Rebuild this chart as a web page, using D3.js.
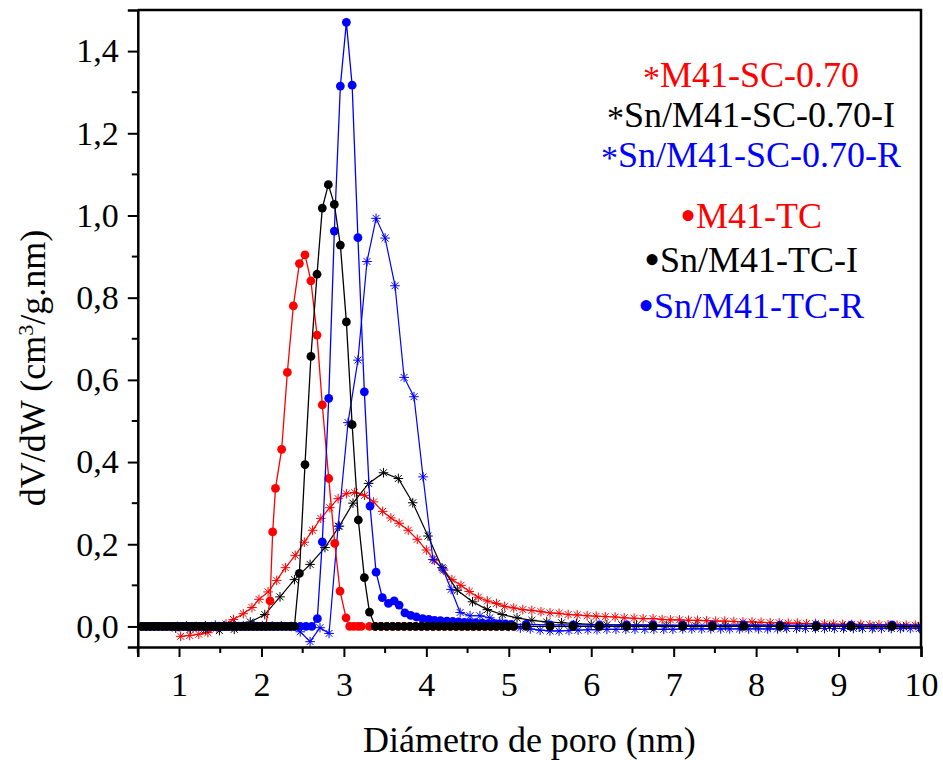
<!DOCTYPE html>
<html>
<head>
<meta charset="utf-8">
<script src="https://cdn.jsdelivr.net/npm/d3@7"></script>
<style>
  body { margin: 0; background: #fff; }
  svg text { font-family: "Liberation Serif", "Times New Roman", serif; }
</style>
</head>
<body>
<div id="chart"></div>
<script>
// pore size distributions, [diameter nm, dV/dW]

// asterisk series
const scRed = [[1.02,-0.024],[1.13,-0.022],[1.24,-0.019],[1.35,-0.015],[1.46,-0.004],[1.57,0.006],[1.66,0.017],[1.78,0.031],[1.885,0.046],[1.97,0.066],[2.08,0.084],[2.185,0.112],[2.29,0.143],[2.41,0.173],[2.52,0.205],[2.62,0.234],[2.72,0.263],[2.83,0.289],[2.93,0.311],[3.03,0.323],[3.13,0.326],[3.25,0.319],[3.36,0.303],[3.47,0.280],[3.57,0.264],[3.67,0.251],[3.78,0.234],[3.89,0.212],[4.00,0.186],[4.10,0.161],[4.21,0.137],[4.31,0.114],[4.42,0.100],[4.52,0.085],[4.63,0.071],[4.74,0.062],[4.85,0.056],[4.95,0.049],[5.06,0.045],[5.17,0.041],[5.28,0.039],[5.39,0.036],[5.50,0.033],[5.61,0.032],[5.72,0.029],[5.83,0.028],[5.95,0.026],[6.06,0.025],[6.17,0.024],[6.29,0.023],[6.40,0.021],[6.52,0.020],[6.63,0.019],[6.75,0.019],[6.86,0.017],[6.96,0.016],[7.07,0.016],[7.18,0.015],[7.29,0.015],[7.40,0.014],[7.51,0.013],[7.62,0.013],[7.73,0.012],[7.84,0.011],[7.95,0.011],[8.06,0.010],[8.17,0.009],[8.28,0.009],[8.39,0.008],[8.50,0.008],[8.61,0.007],[8.72,0.007],[8.83,0.006],[8.94,0.006],[9.05,0.005],[9.16,0.005],[9.27,0.005],[9.38,0.004],[9.49,0.004],[9.60,0.004],[9.71,0.003],[9.82,0.003],[9.93,0.003],[10.04,0.003]];

const scBlack = [[0.96,-0.004],[1.14,-0.006],[1.32,-0.008],[1.49,-0.010],[1.67,-0.007],[1.865,0.011],[2.04,0.029],[2.225,0.072],[2.40,0.114],[2.59,0.151],[2.77,0.192],[2.945,0.244],[3.11,0.300],[3.30,0.348],[3.48,0.374],[3.66,0.360],[3.835,0.301],[4.02,0.220],[4.19,0.143],[4.375,0.088],[4.56,0.060],[4.74,0.041],[4.92,0.029],[5.10,0.021],[5.28,0.015],[5.46,0.011],[5.64,0.009],[5.82,0.007],[6.00,0.005],[6.19,0.004],[6.37,0.004],[6.55,0.003],[6.73,0.003],[6.91,0.002],[7.09,0.002],[7.27,0.002],[7.45,0.001],[7.63,0.001],[7.81,0.001],[7.99,0.001],[8.17,0.000],[8.35,0.000],[8.53,0.000],[8.71,0.000],[8.89,0.000],[9.07,0.000],[9.25,-0.001],[9.43,-0.001],[9.61,-0.001],[9.79,-0.001],[9.97,-0.001]];

const scBlue = [[0.98,0.000],[1.09,0.001],[1.21,0.000],[1.32,0.002],[1.44,0.003],[1.55,0.002],[1.67,0.003],[1.78,0.002],[1.90,0.003],[2.01,0.002],[2.13,0.001],[2.24,0.002],[2.36,0.000],[2.47,-0.013],[2.59,-0.037],[2.71,-0.003],[2.82,-0.017],[2.93,0.244],[3.05,0.496],[3.17,0.648],[3.28,0.888],[3.39,0.993],[3.50,0.945],[3.62,0.829],[3.73,0.606],[3.85,0.559],[3.96,0.364],[4.08,0.163],[4.20,0.140],[4.30,0.090],[4.41,0.034],[4.53,0.026],[4.65,0.026],[4.77,0.021],[4.89,0.010],[5.00,0.000],[5.14,-0.004],[5.26,-0.006],[5.38,-0.009],[5.50,-0.011],[5.61,-0.011],[5.73,-0.010],[5.84,-0.009],[5.96,-0.008],[6.07,-0.008],[6.19,-0.007],[6.30,-0.007],[6.42,-0.007],[6.53,-0.007],[6.65,-0.007],[6.76,-0.007],[6.88,-0.007],[6.99,-0.007],[7.11,-0.006],[7.22,-0.006],[7.34,-0.006],[7.45,-0.006],[7.57,-0.006],[7.68,-0.006],[7.80,-0.006],[7.91,-0.006],[8.03,-0.006],[8.14,-0.006],[8.26,-0.006],[8.37,-0.005],[8.49,-0.005],[8.60,-0.005],[8.72,-0.005],[8.83,-0.005],[8.95,-0.005],[9.06,-0.005],[9.18,-0.005],[9.29,-0.005],[9.41,-0.005],[9.52,-0.005],[9.64,-0.005],[9.75,-0.005],[9.87,-0.005],[9.98,-0.005]];

// dot series
const tcRed = [[0.55,0],[0.60,0],[0.65,0],[0.70,0],[0.75,0],[0.80,0],[0.85,0],[0.90,0],[0.95,0],[1.00,0],[1.05,0],[1.10,0],[1.15,0],[1.20,0],[1.25,0],[1.30,0],[1.35,0],[1.40,0],[1.45,0],[1.50,0],[1.55,0],[1.60,0],[1.65,0],[1.70,0],[1.75,0],[1.80,0],[1.85,0],[1.90,0],[1.95,0],[2.00,0],[2.05,0],[2.104,0.062],[2.136,0.230],[2.17,0.336],[2.245,0.431],[2.314,0.618],[2.387,0.780],[2.46,0.883],[2.528,0.904],[2.60,0.841],[2.674,0.709],[2.738,0.539],[2.816,0.360],[2.889,0.202],[2.953,0.086],[3.026,0.021],[3.07,0],[3.12,0],[3.17,0],[3.21,0],[3.31,0],[3.38,0],[3.45,0],[3.52,0],[3.59,0],[3.66,0],[3.73,0],[3.80,0],[3.87,0],[3.94,0],[4.01,0],[4.08,0],[4.15,0],[4.22,0],[4.29,0],[4.36,0],[4.43,0],[4.50,0],[4.57,0],[4.64,0],[4.71,0],[4.78,0],[4.85,0],[4.92,0],[4.99,0],[5.06,0]];

const tcBlack = [[0.55,0],[0.60,0],[0.65,0],[0.70,0],[0.75,0],[0.80,0],[0.85,0],[0.90,0],[0.95,0],[1.00,0],[1.05,0],[1.10,0],[1.15,0],[1.20,0],[1.25,0],[1.30,0],[1.35,0],[1.40,0],[1.45,0],[1.50,0],[1.55,0],[1.60,0],[1.65,0],[1.70,0],[1.75,0],[1.80,0],[1.85,0],[1.90,0],[1.95,0],[2.00,0],[2.05,0],[2.10,0],[2.15,0],[2.20,0],[2.25,0],[2.30,0],[2.35,0],[2.40,0],[2.46,0.129],[2.528,0.394],[2.60,0.657],[2.674,0.857],[2.738,1.018],[2.811,1.075],[2.884,1.027],[2.957,0.928],[3.03,0.741],[3.10,0.491],[3.175,0.259],[3.248,0.119],[3.31,0.035],[3.38,0],[3.45,0],[3.52,0],[3.59,0],[3.66,0],[3.73,0],[3.80,0],[3.87,0],[3.94,0],[4.01,0],[4.08,0],[4.15,0],[4.22,0],[4.29,0],[4.36,0],[4.43,0],[4.50,0],[4.57,0],[4.64,0],[4.71,0],[4.78,0],[4.85,0],[4.92,0],[4.99,0],[5.06,0],[5.21,0],[5.50,0],[5.78,0],[6.10,0],[6.43,0],[6.75,0],[7.11,0],[7.47,0],[7.85,0],[8.29,0],[8.73,0],[9.15,0],[9.65,0],[10.2,0]];

const tcBlue = [[0.55,0],[0.60,0],[0.65,0],[0.70,0],[0.75,0],[0.80,0],[0.85,0],[0.90,0],[0.95,0],[1.00,0],[1.05,0],[1.10,0],[1.15,0],[1.20,0],[1.25,0],[1.30,0],[1.35,0],[1.40,0],[1.45,0],[1.50,0],[1.55,0],[1.60,0],[1.65,0],[1.70,0],[1.75,0],[1.80,0],[1.85,0],[1.90,0],[1.95,0],[2.00,0],[2.05,0],[2.10,0],[2.15,0],[2.20,0],[2.25,0],[2.30,0],[2.35,0],[2.40,0],[2.47,0],[2.54,0],[2.61,0],[2.678,0.019],[2.738,0.206],[2.816,0.555],[2.884,0.962],[2.957,1.315],[3.03,1.470],[3.10,1.317],[3.17,0.946],[3.248,0.571],[3.317,0.293],[3.39,0.132],[3.466,0.070],[3.54,0.056],[3.61,0.062],[3.67,0.052],[3.74,0.033],[3.81,0.027],[3.88,0.023],[3.955,0.019],[4.03,0.017],[4.10,0.015],[4.17,0.014],[4.25,0.013],[4.32,0.012],[4.39,0.011],[4.46,0.010],[4.53,0.009],[4.60,0.009],[4.68,0.008],[4.75,0.007],[4.82,0.007],[4.89,0.006],[4.96,0.006],[5.03,0.005],[5.21,0.005],[5.50,0.004],[5.78,0.004],[6.10,0.004],[6.43,0.004],[6.75,0.004],[7.11,0.003],[7.47,0.003],[7.85,0.004],[8.29,0.003],[8.73,0.003],[9.15,0.003],[9.65,0.004],[10.2,0.003]];

// ticks
const xTicks = [1, 2, 3, 4, 5, 6, 7, 8, 9, 10];
const xMinorTicks = [0.5, 1.5, 2.5, 3.5, 4.5, 5.5, 6.5, 7.5, 8.5, 9.5];
const yTicks = [0, 0.2, 0.4, 0.6, 0.8, 1.0, 1.2, 1.4];
const yMinorTicks = [0.1, 0.3, 0.5, 0.7, 0.9, 1.1, 1.3];

// legend: marker glyph + label
const legendMarks = ["*", "*", "*", "\u2022", "\u2022", "\u2022"];
const legendLabels = ["M41-SC-0.70", "Sn/M41-SC-0.70-I", "Sn/M41-SC-0.70-R", "M41-TC", "Sn/M41-TC-I", "Sn/M41-TC-R"];
const legendColors = ["#ff0000", "#000000", "#0000ff", "#ff0000", "#000000", "#0000ff"];

const width = 943, height = 760;
const margin = {top: 10, right: 22, bottom: 113, left: 137.8};

const x = d3.scaleLinear()
    .domain([0.5, 10])
    .range([margin.left, width - margin.right]);

const y = d3.scaleLinear()
    .domain([-0.05, 1.5])
    .range([height - margin.bottom, margin.top]);

const svg = d3.select("#chart")
    .append("svg")
    .attr("width", width)
    .attr("height", height);

svg.append("clipPath")
    .attr("id", "plotClip")
    .append("rect")
    .attr("x", margin.left)
    .attr("y", margin.top)
    .attr("width", width - margin.right - margin.left)
    .attr("height", height - margin.bottom - margin.top);

const plot = svg.append("g").attr("clip-path", "url(#plotClip)");

const line = d3.line()
    .x(d => x(d[0]))
    .y(d => y(d[1]));

// asterisk marker, 4 strokes through the centre
function starPath(s) {
    const k = s * 0.72;
    return `M${-s},0H${s}M0,${-s}V${s}M${-k},${-k}L${k},${k}M${-k},${k}L${k},${-k}`;
}

function drawStars(data, color) {
    plot.append("path")
        .datum(data)
        .attr("d", line)
        .attr("fill", "none")
        .attr("stroke", color)
        .attr("stroke-width", 1.2);

    plot.append("g")
        .selectAll("path")
        .data(data)
        .enter()
        .append("path")
        .attr("transform", d => `translate(${x(d[0])},${y(d[1])})`)
        .attr("d", starPath(4.8))
        .attr("stroke", color)
        .attr("stroke-width", 1)
        .attr("fill", "none");
}

function drawDots(data, color) {
    plot.append("path")
        .datum(data)
        .attr("d", line)
        .attr("fill", "none")
        .attr("stroke", color)
        .attr("stroke-width", 1.3);

    plot.append("g")
        .selectAll("circle")
        .data(data)
        .enter()
        .append("circle")
        .attr("cx", d => x(d[0]))
        .attr("cy", d => y(d[1]))
        .attr("r", 4.4)
        .attr("fill", color);
}

drawStars(scRed, "#ff0000");
drawStars(scBlack, "#000000");
drawStars(scBlue, "#0000ff");
drawDots(tcRed, "#ff0000");
drawDots(tcBlue, "#0000ff");
drawDots(tcBlack, "#000000");

// frame: top and right lines
svg.append("path")
    .attr("d", `M${margin.left},${margin.top}H${width - margin.right}V${height - margin.bottom}`)
    .attr("fill", "none")
    .attr("stroke", "#000")
    .attr("stroke-width", 2.5);

// x axis
const xAxis = svg.append("g")
    .attr("transform", `translate(0,${height - margin.bottom})`)
    .call(d3.axisBottom(x).tickValues(xTicks).tickSize(10).tickPadding(15).tickFormat(d3.format("d")));

xAxis.append("g")
    .selectAll("line")
    .data(xMinorTicks)
    .enter()
    .append("line")
    .attr("x1", d => x(d))
    .attr("x2", d => x(d))
    .attr("y1", 0)
    .attr("y2", 6)
    .attr("stroke", "#000")
    .attr("stroke-width", 2);

// y axis
const yAxis = svg.append("g")
    .attr("transform", `translate(${margin.left},0)`)
    .call(d3.axisLeft(y).tickValues(yTicks).tickSize(10).tickPadding(9)
        .tickFormat(d => d3.format(".1f")(d).replace(".", ",")));

yAxis.append("g")
    .selectAll("line")
    .data(yMinorTicks)
    .enter()
    .append("line")
    .attr("x1", 0)
    .attr("x2", -6)
    .attr("y1", d => y(d))
    .attr("y2", d => y(d))
    .attr("stroke", "#000")
    .attr("stroke-width", 2);

svg.selectAll(".domain")
    .attr("stroke-width", 2.5);

svg.selectAll(".tick line")
    .attr("stroke-width", 2);

svg.selectAll(".tick text")
    .style("font-family", "'Liberation Serif', serif")
    .style("font-size", "34px")
    .attr("fill", "#000");

// axis titles
svg.append("text")
    .attr("x", (margin.left + width - margin.right) / 2)
    .attr("y", 752)
    .attr("text-anchor", "middle")
    .style("font-size", "36px")
    .text("Diámetro de poro (nm)");

const yTitle = svg.append("text")
    .attr("transform", "translate(45,368) rotate(-90)")
    .attr("text-anchor", "middle")
    .style("font-size", "36px");

yTitle.append("tspan").text("dV/dW (cm");
yTitle.append("tspan").attr("baseline-shift", "super").style("font-size", "22px").text("3");
yTitle.append("tspan").text("/g.nm)");

// legend text
const legendY = [87, 127, 167, 228, 272, 318];

const legendText = svg.append("g")
    .selectAll("text")
    .data(legendLabels)
    .enter()
    .append("text")
    .attr("x", 751)
    .attr("y", (d, i) => legendY[i])
    .attr("text-anchor", "middle")
    .attr("fill", (d, i) => legendColors[i])
    .style("font-size", "36px");

legendText.append("tspan")
    .style("font-size", (d, i) => legendMarks[i] === "*" ? "34px" : "46px")
    .attr("baseline-shift", (d, i) => legendMarks[i] === "*" ? "-2px" : "-3px")
    .text((d, i) => legendMarks[i]);

legendText.append("tspan")
    .text(d => d);
</script>
</body>
</html>
